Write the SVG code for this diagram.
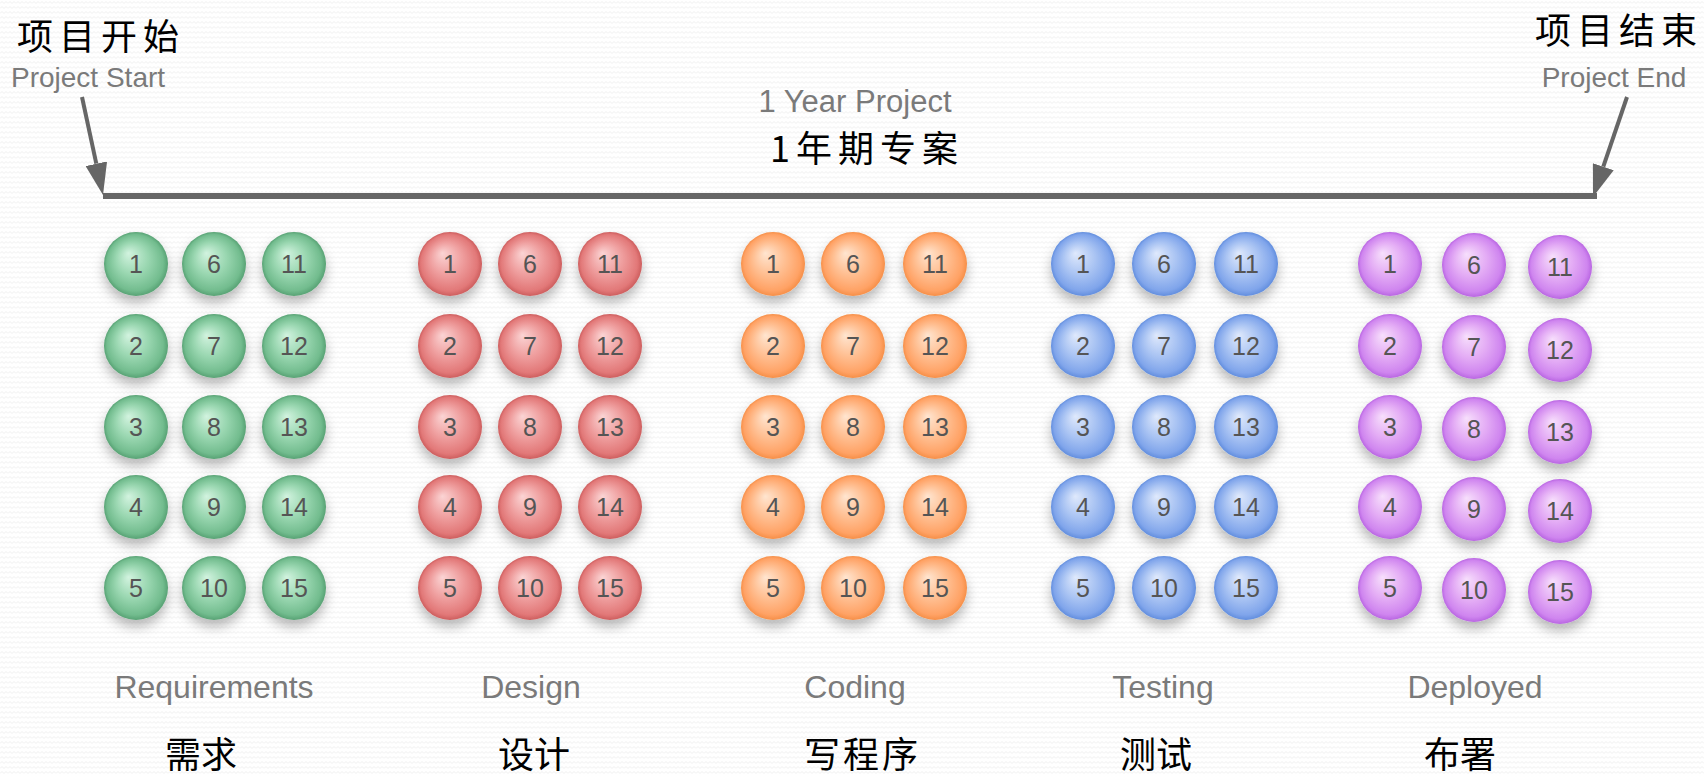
<svg xmlns="http://www.w3.org/2000/svg" width="1704" height="776" viewBox="0 0 1704 776">
<defs>
<pattern id="bg" width="8" height="5" patternUnits="userSpaceOnUse">
<rect width="8" height="5" fill="#ffffff"/>
<path d="M0 3.5 L2 1.5 L4 3.5 L6 1.5 L8 3.5" fill="none" stroke="#efefef" stroke-width="1"/>
</pattern>
<radialGradient id="gG" cx="0.5" cy="0.5" r="0.5" fx="0.38" fy="0.33">
<stop offset="0" stop-color="#d2f3df"/><stop offset="0.5" stop-color="#9ad7b1"/><stop offset="0.88" stop-color="#72bc8e"/><stop offset="1" stop-color="#58a274"/>
</radialGradient>
<radialGradient id="gR" cx="0.5" cy="0.5" r="0.5" fx="0.38" fy="0.33">
<stop offset="0" stop-color="#fbd4d4"/><stop offset="0.5" stop-color="#ef9f9f"/><stop offset="0.88" stop-color="#e27878"/><stop offset="1" stop-color="#cd5e5e"/>
</radialGradient>
<radialGradient id="gO" cx="0.5" cy="0.5" r="0.5" fx="0.38" fy="0.33">
<stop offset="0" stop-color="#ffe5d0"/><stop offset="0.5" stop-color="#ffbf92"/><stop offset="0.88" stop-color="#ffa265"/><stop offset="1" stop-color="#f68f48"/>
</radialGradient>
<radialGradient id="gB" cx="0.5" cy="0.5" r="0.5" fx="0.38" fy="0.33">
<stop offset="0" stop-color="#dfe9fc"/><stop offset="0.5" stop-color="#aac4f3"/><stop offset="0.88" stop-color="#80a5eb"/><stop offset="1" stop-color="#628ede"/>
</radialGradient>
<radialGradient id="gP" cx="0.5" cy="0.5" r="0.5" fx="0.38" fy="0.33">
<stop offset="0" stop-color="#f7dffc"/><stop offset="0.5" stop-color="#e4adf5"/><stop offset="0.88" stop-color="#cf85ef"/><stop offset="1" stop-color="#b966e2"/>
</radialGradient>
<filter id="sh" x="-50%" y="-50%" width="200%" height="220%">
<feDropShadow dx="0" dy="7" stdDeviation="6" flood-color="#000" flood-opacity="0.28"/>
</filter>
<marker id="ah" markerUnits="userSpaceOnUse" viewBox="0 0 32 22" refX="0" refY="11" markerWidth="32" markerHeight="22" orient="auto">
<path d="M0 0 L32 11 L0 22 Z" fill="#666"/>
</marker>
</defs>
<style>
.ball circle{filter:url(#sh);}
.ball text{font-family:"Liberation Sans",Arial,sans-serif;font-size:25px;fill:#555;text-anchor:middle;}
.G circle{fill:url(#gG);} .R circle{fill:url(#gR);} .O circle{fill:url(#gO);} .B circle{fill:url(#gB);} .P circle{fill:url(#gP);}
.en{font-family:"Liberation Sans",Arial,sans-serif;fill:#7a7a7a;}
.lab{font-size:32px;text-anchor:middle;}
.zh{font-family:"Noto Sans CJK SC",sans-serif;fill:#000;font-size:36px;}
.conn{stroke:#666;fill:none;}
</style>
<rect width="1704" height="776" fill="url(#bg)"/>

<g id="connectors">
<line class="conn" x1="103" y1="196" x2="1597" y2="196" stroke-width="6"/>
<line class="conn" x1="82" y1="97" x2="96.3" y2="163.7" stroke-width="4" marker-end="url(#ah)"/>
<line class="conn" x1="1627" y1="97" x2="1603.3" y2="166.7" stroke-width="4" marker-end="url(#ah)"/>
</g>

<g id="project-start"><text class="zh" x="17" y="50" letter-spacing="6">项目开始</text><text class="en" x="11" y="87" font-size="28">Project Start</text></g>
<g id="project-end"><text class="zh" x="1535" y="44" letter-spacing="6">项目结束</text><text class="en" x="1614" y="87" font-size="28" text-anchor="middle">Project End</text></g>
<g id="project-title"><text class="en" x="855" y="112" font-size="31" text-anchor="middle">1 Year Project</text><text class="zh" x="770" y="162" letter-spacing="6">1年期专案</text></g>

<g id="requirements">
<g id="req-1" class="ball G"><circle cx="136" cy="264" r="32"/><text x="136" y="273">1</text></g>
<g id="req-2" class="ball G"><circle cx="136" cy="346" r="32"/><text x="136" y="355">2</text></g>
<g id="req-3" class="ball G"><circle cx="136" cy="427" r="32"/><text x="136" y="436">3</text></g>
<g id="req-4" class="ball G"><circle cx="136" cy="507" r="32"/><text x="136" y="516">4</text></g>
<g id="req-5" class="ball G"><circle cx="136" cy="588" r="32"/><text x="136" y="597">5</text></g>
<g id="req-6" class="ball G"><circle cx="214" cy="264" r="32"/><text x="214" y="273">6</text></g>
<g id="req-7" class="ball G"><circle cx="214" cy="346" r="32"/><text x="214" y="355">7</text></g>
<g id="req-8" class="ball G"><circle cx="214" cy="427" r="32"/><text x="214" y="436">8</text></g>
<g id="req-9" class="ball G"><circle cx="214" cy="507" r="32"/><text x="214" y="516">9</text></g>
<g id="req-10" class="ball G"><circle cx="214" cy="588" r="32"/><text x="214" y="597">10</text></g>
<g id="req-11" class="ball G"><circle cx="294" cy="264" r="32"/><text x="294" y="273">11</text></g>
<g id="req-12" class="ball G"><circle cx="294" cy="346" r="32"/><text x="294" y="355">12</text></g>
<g id="req-13" class="ball G"><circle cx="294" cy="427" r="32"/><text x="294" y="436">13</text></g>
<g id="req-14" class="ball G"><circle cx="294" cy="507" r="32"/><text x="294" y="516">14</text></g>
<g id="req-15" class="ball G"><circle cx="294" cy="588" r="32"/><text x="294" y="597">15</text></g>
<text class="en lab" x="214" y="698">Requirements</text>
<text class="zh" x="165" y="768">需求</text>
</g>

<g id="design">
<g id="des-1" class="ball R"><circle cx="450" cy="264" r="32"/><text x="450" y="273">1</text></g>
<g id="des-2" class="ball R"><circle cx="450" cy="346" r="32"/><text x="450" y="355">2</text></g>
<g id="des-3" class="ball R"><circle cx="450" cy="427" r="32"/><text x="450" y="436">3</text></g>
<g id="des-4" class="ball R"><circle cx="450" cy="507" r="32"/><text x="450" y="516">4</text></g>
<g id="des-5" class="ball R"><circle cx="450" cy="588" r="32"/><text x="450" y="597">5</text></g>
<g id="des-6" class="ball R"><circle cx="530" cy="264" r="32"/><text x="530" y="273">6</text></g>
<g id="des-7" class="ball R"><circle cx="530" cy="346" r="32"/><text x="530" y="355">7</text></g>
<g id="des-8" class="ball R"><circle cx="530" cy="427" r="32"/><text x="530" y="436">8</text></g>
<g id="des-9" class="ball R"><circle cx="530" cy="507" r="32"/><text x="530" y="516">9</text></g>
<g id="des-10" class="ball R"><circle cx="530" cy="588" r="32"/><text x="530" y="597">10</text></g>
<g id="des-11" class="ball R"><circle cx="610" cy="264" r="32"/><text x="610" y="273">11</text></g>
<g id="des-12" class="ball R"><circle cx="610" cy="346" r="32"/><text x="610" y="355">12</text></g>
<g id="des-13" class="ball R"><circle cx="610" cy="427" r="32"/><text x="610" y="436">13</text></g>
<g id="des-14" class="ball R"><circle cx="610" cy="507" r="32"/><text x="610" y="516">14</text></g>
<g id="des-15" class="ball R"><circle cx="610" cy="588" r="32"/><text x="610" y="597">15</text></g>
<text class="en lab" x="531" y="698">Design</text>
<text class="zh" x="498" y="768">设计</text>
</g>

<g id="coding">
<g id="cod-1" class="ball O"><circle cx="773" cy="264" r="32"/><text x="773" y="273">1</text></g>
<g id="cod-2" class="ball O"><circle cx="773" cy="346" r="32"/><text x="773" y="355">2</text></g>
<g id="cod-3" class="ball O"><circle cx="773" cy="427" r="32"/><text x="773" y="436">3</text></g>
<g id="cod-4" class="ball O"><circle cx="773" cy="507" r="32"/><text x="773" y="516">4</text></g>
<g id="cod-5" class="ball O"><circle cx="773" cy="588" r="32"/><text x="773" y="597">5</text></g>
<g id="cod-6" class="ball O"><circle cx="853" cy="264" r="32"/><text x="853" y="273">6</text></g>
<g id="cod-7" class="ball O"><circle cx="853" cy="346" r="32"/><text x="853" y="355">7</text></g>
<g id="cod-8" class="ball O"><circle cx="853" cy="427" r="32"/><text x="853" y="436">8</text></g>
<g id="cod-9" class="ball O"><circle cx="853" cy="507" r="32"/><text x="853" y="516">9</text></g>
<g id="cod-10" class="ball O"><circle cx="853" cy="588" r="32"/><text x="853" y="597">10</text></g>
<g id="cod-11" class="ball O"><circle cx="935" cy="264" r="32"/><text x="935" y="273">11</text></g>
<g id="cod-12" class="ball O"><circle cx="935" cy="346" r="32"/><text x="935" y="355">12</text></g>
<g id="cod-13" class="ball O"><circle cx="935" cy="427" r="32"/><text x="935" y="436">13</text></g>
<g id="cod-14" class="ball O"><circle cx="935" cy="507" r="32"/><text x="935" y="516">14</text></g>
<g id="cod-15" class="ball O"><circle cx="935" cy="588" r="32"/><text x="935" y="597">15</text></g>
<text class="en lab" x="855" y="698">Coding</text>
<text class="zh" x="804" y="768" letter-spacing="3">写程序</text>
</g>

<g id="testing">
<g id="tst-1" class="ball B"><circle cx="1083" cy="264" r="32"/><text x="1083" y="273">1</text></g>
<g id="tst-2" class="ball B"><circle cx="1083" cy="346" r="32"/><text x="1083" y="355">2</text></g>
<g id="tst-3" class="ball B"><circle cx="1083" cy="427" r="32"/><text x="1083" y="436">3</text></g>
<g id="tst-4" class="ball B"><circle cx="1083" cy="507" r="32"/><text x="1083" y="516">4</text></g>
<g id="tst-5" class="ball B"><circle cx="1083" cy="588" r="32"/><text x="1083" y="597">5</text></g>
<g id="tst-6" class="ball B"><circle cx="1164" cy="264" r="32"/><text x="1164" y="273">6</text></g>
<g id="tst-7" class="ball B"><circle cx="1164" cy="346" r="32"/><text x="1164" y="355">7</text></g>
<g id="tst-8" class="ball B"><circle cx="1164" cy="427" r="32"/><text x="1164" y="436">8</text></g>
<g id="tst-9" class="ball B"><circle cx="1164" cy="507" r="32"/><text x="1164" y="516">9</text></g>
<g id="tst-10" class="ball B"><circle cx="1164" cy="588" r="32"/><text x="1164" y="597">10</text></g>
<g id="tst-11" class="ball B"><circle cx="1246" cy="264" r="32"/><text x="1246" y="273">11</text></g>
<g id="tst-12" class="ball B"><circle cx="1246" cy="346" r="32"/><text x="1246" y="355">12</text></g>
<g id="tst-13" class="ball B"><circle cx="1246" cy="427" r="32"/><text x="1246" y="436">13</text></g>
<g id="tst-14" class="ball B"><circle cx="1246" cy="507" r="32"/><text x="1246" y="516">14</text></g>
<g id="tst-15" class="ball B"><circle cx="1246" cy="588" r="32"/><text x="1246" y="597">15</text></g>
<text class="en lab" x="1163" y="698">Testing</text>
<text class="zh" x="1120" y="768">测试</text>
</g>

<g id="deployed">
<g id="dep-1" class="ball P"><circle cx="1390" cy="264" r="32"/><text x="1390" y="273">1</text></g>
<g id="dep-2" class="ball P"><circle cx="1390" cy="346" r="32"/><text x="1390" y="355">2</text></g>
<g id="dep-3" class="ball P"><circle cx="1390" cy="427" r="32"/><text x="1390" y="436">3</text></g>
<g id="dep-4" class="ball P"><circle cx="1390" cy="507" r="32"/><text x="1390" y="516">4</text></g>
<g id="dep-5" class="ball P"><circle cx="1390" cy="588" r="32"/><text x="1390" y="597">5</text></g>
<g id="dep-6" class="ball P"><circle cx="1474" cy="265" r="32"/><text x="1474" y="274">6</text></g>
<g id="dep-7" class="ball P"><circle cx="1474" cy="347" r="32"/><text x="1474" y="356">7</text></g>
<g id="dep-8" class="ball P"><circle cx="1474" cy="429" r="32"/><text x="1474" y="438">8</text></g>
<g id="dep-9" class="ball P"><circle cx="1474" cy="509" r="32"/><text x="1474" y="518">9</text></g>
<g id="dep-10" class="ball P"><circle cx="1474" cy="590" r="32"/><text x="1474" y="599">10</text></g>
<g id="dep-11" class="ball P"><circle cx="1560" cy="267" r="32"/><text x="1560" y="276">11</text></g>
<g id="dep-12" class="ball P"><circle cx="1560" cy="350" r="32"/><text x="1560" y="359">12</text></g>
<g id="dep-13" class="ball P"><circle cx="1560" cy="432" r="32"/><text x="1560" y="441">13</text></g>
<g id="dep-14" class="ball P"><circle cx="1560" cy="511" r="32"/><text x="1560" y="520">14</text></g>
<g id="dep-15" class="ball P"><circle cx="1560" cy="592" r="32"/><text x="1560" y="601">15</text></g>
<text class="en lab" x="1475" y="698">Deployed</text>
<text class="zh" x="1424" y="768">布署</text>
</g>
</svg>
